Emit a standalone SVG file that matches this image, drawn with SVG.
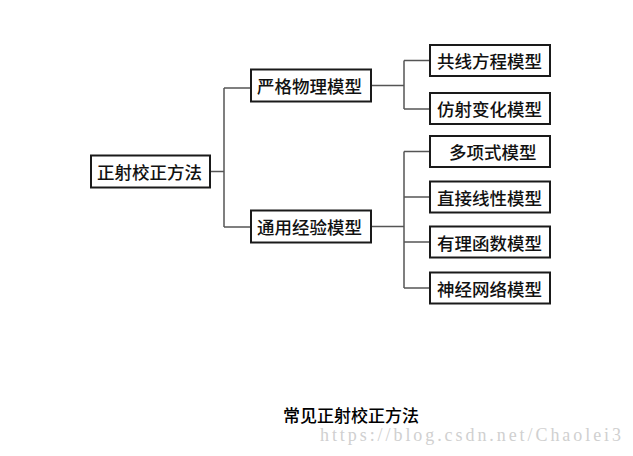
<svg xmlns="http://www.w3.org/2000/svg" width="633" height="456" viewBox="0 0 633 456">
<style>
.box{fill:#fff;stroke:#1a1a1a;stroke-width:2}
.lbl{font-family:"Noto Sans CJK SC","Liberation Serif",sans-serif;font-size:17.5px;font-weight:500;fill:#111;dominant-baseline:central}
.con{fill:none;stroke:#555;stroke-width:1.5}
.cap{font-family:"Noto Sans CJK SC","Liberation Sans",sans-serif;font-size:17px;font-weight:500;fill:#000}
.wm{font-family:"Liberation Serif",serif;font-size:18px;fill:#d0d0d0}
</style>
<rect width="633" height="456" fill="#fff"/>
<g id="connectors">
<path class="con" d="M210 171.5H224M224 88V227M224 88H251M224 227H251"/>
<path class="con" d="M371 85.5H404M404 60.5V109M404 60.5H430M404 109H430"/>
<path class="con" d="M371 226.5H404M404 151.5V288M404 151.5H430M404 197H430M404 242H430M404 288H430"/>
</g>
<g id="n-root"><rect class="box" x="91" y="155.5" width="119" height="32"/><text class="lbl" x="97" y="171.5">正射校正方法</text></g>
<g id="n-strict"><rect class="box" x="251" y="69.5" width="120" height="32"/><text class="lbl" x="257" y="85.5">严格物理模型</text></g>
<g id="n-general"><rect class="box" x="251" y="210.5" width="120" height="32"/><text class="lbl" x="257" y="226.5">通用经验模型</text></g>
<g id="n-colinear"><rect class="box" x="430" y="45" width="120" height="31"/><text class="lbl" x="437" y="60.5">共线方程模型</text></g>
<g id="n-affine"><rect class="box" x="430" y="93" width="120" height="31"/><text class="lbl" x="437" y="108.5">仿射变化模型</text></g>
<g id="n-poly"><rect class="box" x="430" y="136" width="120" height="31"/><text class="lbl" x="449" y="151.5">多项式模型</text></g>
<g id="n-dlt"><rect class="box" x="430" y="181.5" width="120" height="31"/><text class="lbl" x="437" y="197">直接线性模型</text></g>
<g id="n-rfm"><rect class="box" x="430" y="226.5" width="120" height="31"/><text class="lbl" x="437" y="242">有理函数模型</text></g>
<g id="n-nn"><rect class="box" x="430" y="272.5" width="120" height="31"/><text class="lbl" x="437" y="288">神经网络模型</text></g>
<text class="cap" x="283" y="422">常见正射校正方法</text>
<text class="wm" x="320" y="441" textLength="301" lengthAdjust="spacing">https://blog.csdn.net/Chaolei3</text>
</svg>
